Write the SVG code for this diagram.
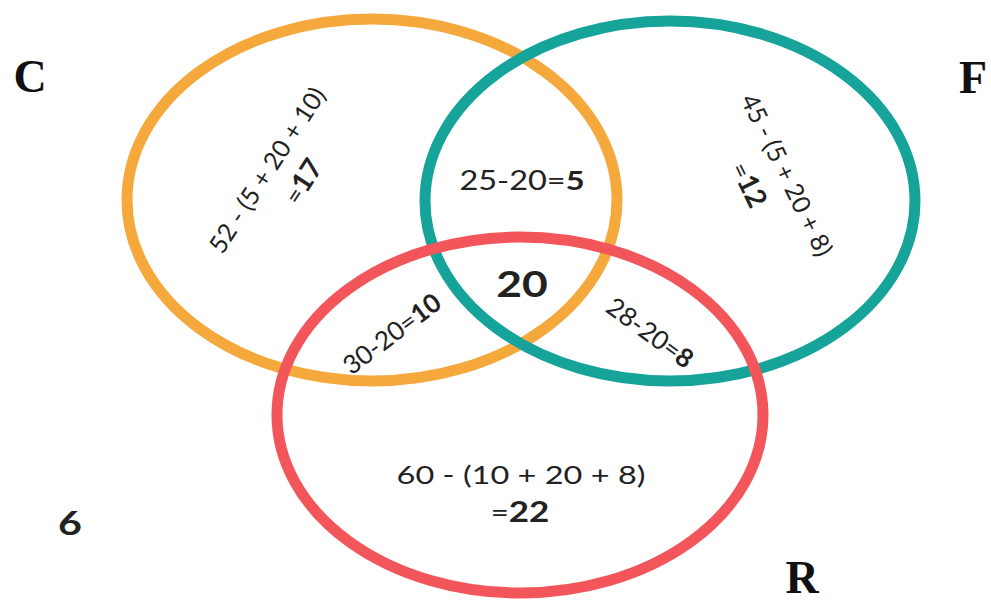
<svg xmlns="http://www.w3.org/2000/svg" width="991" height="603" viewBox="0 0 991 603">
<style>
.ring{fill:none;stroke-width:11}
.t{font-family:Lato,"Open Sans","Liberation Sans",sans-serif;fill:#222;font-size:25px;text-anchor:middle}
.b{font-weight:bold}
.lab{font-family:"Liberation Serif","Times New Roman",serif;font-weight:bold;fill:#111;font-size:46px;text-anchor:middle}
</style>
<rect width="991" height="603" fill="#ffffff"/>
<g id="circle-C"><ellipse class="ring" cx="372" cy="200" rx="245" ry="181" stroke="#F5A93C"/></g>
<g id="circle-F"><ellipse class="ring" cx="670" cy="201" rx="245" ry="180" stroke="#15A39A"/></g>
<g id="circle-R"><ellipse class="ring" cx="520" cy="415" rx="243" ry="178" stroke="#F2565A"/></g>
<g id="label-C"><text class="lab" x="30" y="92">C</text></g>
<g id="label-F"><text class="lab" x="973" y="93">F</text></g>
<g id="label-R"><text class="lab" x="802" y="593">R</text></g>
<g id="outside"><text class="t b" transform="translate(70,535) scale(1.25,1)" style="font-size:33px">6</text></g>
<g id="only-C" transform="translate(267,170) rotate(-57)">
<text class="t" x="0" y="9">52 - (5 + 20 + 10)</text>
<text class="t" x="10" y="46">=<tspan class="b" style="font-size:28px">17</tspan></text>
</g>
<g id="only-F" transform="translate(787,175) rotate(64)">
<text class="t" x="0" y="9">45 - (5 + 20 + 8)</text>
<text class="t" x="-8" y="48">=<tspan class="b" style="font-size:28px">12</tspan></text>
</g>
<g id="C-F"><text class="t" transform="translate(522,190) scale(1.25,1)" style="font-size:26px">25-20=<tspan class="b">5</tspan></text></g>
<g id="all"><text class="t b" transform="translate(522,297) scale(1.2,1)" style="font-size:37px">20</text></g>
<g id="C-R" transform="translate(392,334) rotate(-37)"><text class="t" x="0" y="9" style="font-size:26px">30-20=<tspan class="b">10</tspan></text></g>
<g id="F-R" transform="translate(650,333) rotate(36)"><text class="t" x="0" y="9" style="font-size:26px">28-20=<tspan class="b">8</tspan></text></g>
<g id="only-R">
<text class="t" transform="translate(521,484) scale(1.3,1)">60 - (10 + 20 + 8)</text>
<text class="t" transform="translate(520,522) scale(1.25,1)">=<tspan class="b" style="font-size:28px">22</tspan></text>
</g>
<g id="connectors"></g>
</svg>
